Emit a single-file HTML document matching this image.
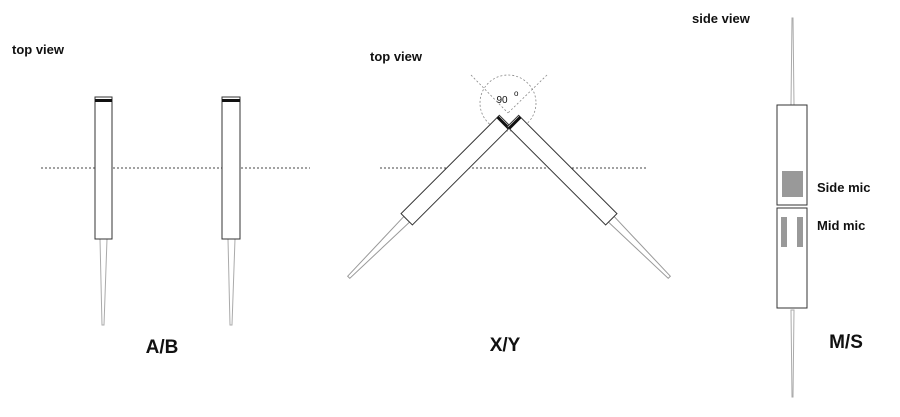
<!DOCTYPE html>
<html><head><style>
body{margin:0;background:#fff;width:900px;height:417px;overflow:hidden}
svg{display:block}
text{font-family:"Liberation Sans",Arial,sans-serif;font-weight:bold;fill:#111}
</style></head><body>
<svg width="900" height="417" viewBox="0 0 900 417" xmlns="http://www.w3.org/2000/svg">
<!-- A/B -->
<text x="12" y="54" font-size="13">top view</text>
<line x1="41" y1="168" x2="310" y2="168" stroke="#444" stroke-width="1" stroke-dasharray="2,2"/>
<g>
<polygon points="100,239 107,239 104,325 102,325" fill="#fff" stroke="#aaa" stroke-width="1"/>
<rect x="95" y="97" width="17" height="142" fill="#fff" stroke="#333" stroke-width="1"/>
<rect x="95" y="99" width="17" height="3" fill="#111"/>
</g>
<g>
<polygon points="228,239 235,239 232,325 230,325" fill="#fff" stroke="#aaa" stroke-width="1"/>
<rect x="222" y="97" width="18" height="142" fill="#fff" stroke="#333" stroke-width="1"/>
<rect x="222" y="99" width="18" height="3" fill="#111"/>
</g>
<text x="162" y="353" font-size="19" text-anchor="middle">A/B</text>

<!-- X/Y -->
<text x="370" y="61" font-size="13">top view</text>
<line x1="380" y1="168" x2="648" y2="168" stroke="#444" stroke-width="1" stroke-dasharray="2,2"/>
<circle cx="508" cy="103" r="28" fill="none" stroke="#888" stroke-width="0.8" stroke-dasharray="2,2"/>
<line x1="471" y1="75" x2="508" y2="113" stroke="#888" stroke-width="0.8" stroke-dasharray="2,2"/>
<line x1="547" y1="75" x2="508" y2="113" stroke="#888" stroke-width="0.8" stroke-dasharray="2,2"/>
<text x="502" y="103" font-size="10" style="font-weight:normal" text-anchor="middle">90</text>
<text x="514" y="96" font-size="8" style="font-weight:normal">o</text>
<g transform="translate(505,121) rotate(45)">
<polygon points="-4,139 4,139 1.5,221 -1.5,221" fill="#fff" stroke="#999" stroke-width="1"/>
<rect x="-8" y="0" width="16" height="139" fill="#fff" stroke="#333" stroke-width="1"/>
<rect x="-8" y="1" width="16" height="3" fill="#111"/>
</g>
<g transform="translate(513,121) rotate(-45)">
<polygon points="-4,139 4,139 1.5,221 -1.5,221" fill="#fff" stroke="#999" stroke-width="1"/>
<rect x="-8" y="0" width="16" height="139" fill="#fff" stroke="#333" stroke-width="1"/>
<rect x="-8" y="1" width="16" height="3" fill="#111"/>
</g>
<text x="505" y="351" font-size="19" text-anchor="middle">X/Y</text>

<!-- M/S -->
<text x="692" y="23" font-size="13">side view</text>
<polygon points="791,105 794,105 793,18 792,18" fill="#fff" stroke="#aaa" stroke-width="1"/>
<polygon points="791,310 794,310 793,397 792,397" fill="#fff" stroke="#aaa" stroke-width="1"/>
<rect x="777" y="105" width="30" height="100" fill="#fff" stroke="#333" stroke-width="1"/>
<rect x="777" y="208" width="30" height="100" fill="#fff" stroke="#333" stroke-width="1"/>
<rect x="782" y="171" width="21" height="26" fill="#999"/>
<rect x="781" y="217" width="6" height="30" fill="#999"/>
<rect x="797" y="217" width="6" height="30" fill="#999"/>
<text x="817" y="192" font-size="13">Side mic</text>
<text x="817" y="230" font-size="13">Mid mic</text>
<text x="846" y="348" font-size="19" text-anchor="middle">M/S</text>
</svg>
</body></html>
